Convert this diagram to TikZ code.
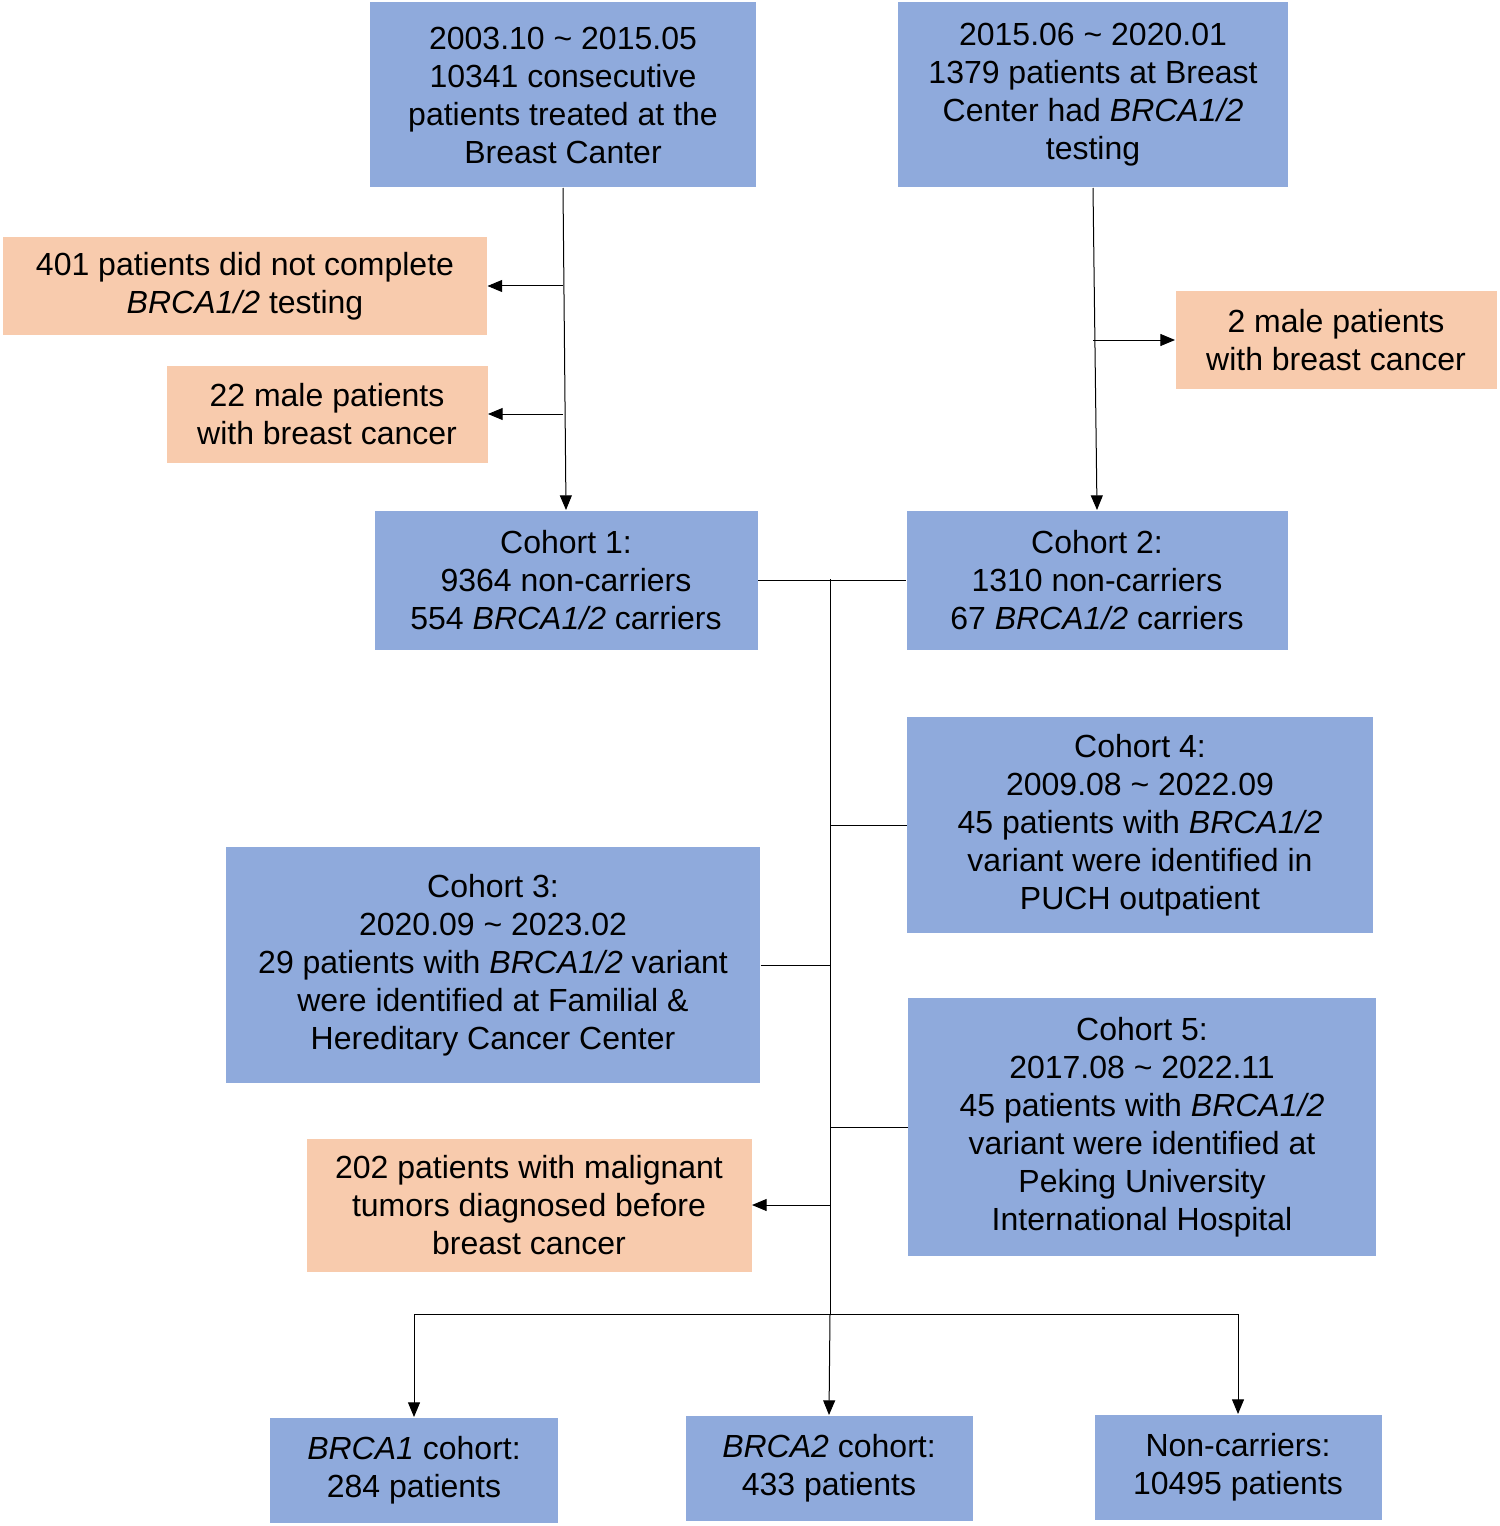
\documentclass[tikz,border=0pt]{standalone}
\usepackage{fontspec}
\setmainfont{Liberation Sans}
\usetikzlibrary{arrows.meta}
\definecolor{boxblue}{RGB}{143,170,220}
\definecolor{boxorange}{RGB}{248,203,173}
\tikzset{every picture/.style={line width=0.75pt}}
\tikzset{
  bluebox/.style={fill=boxblue, inner sep=0pt, align=center, font=\fontsize{24}{28.5}\selectfont},
  orangebox/.style={fill=boxorange, inner sep=0pt, align=center, font=\fontsize{24}{28.5}\selectfont},
  arr/.style={-{Triangle[length=11pt,width=9pt]}},
}
\begin{document}
\begin{tikzpicture}[x=0.75pt,y=0.75pt,yscale=-1,xscale=1]
\useasboundingbox (0,0) rectangle (1499,1526);

% Top boxes
\node [bluebox, minimum width=386*0.75pt, minimum height=185*0.75pt] (start1) at (563,95) {2003.10 \char`~{} 2015.05\\10341 consecutive\\patients treated at the\\Breast Canter};
\node [bluebox, minimum width=390*0.75pt, minimum height=185*0.75pt] (start2) at (1093,95) {2015.06 \char`~{} 2020.01\\1379 patients at Breast\\Center had \textit{BRCA1/2}\\testing};

% Exclusions
\node [orangebox, minimum width=484*0.75pt, minimum height=98*0.75pt] (excl1) at (245,286) {401 patients did not complete\\\textit{BRCA1/2} testing};
\node [orangebox, minimum width=321*0.75pt, minimum height=97*0.75pt] (excl2) at (327,414) {22 male patients\\with breast cancer};
\node [orangebox, minimum width=321*0.75pt, minimum height=97*0.75pt] (excl3) at (1336,340) {2 male patients\\with breast cancer};

% Cohorts
\node [bluebox, minimum width=383*0.75pt, minimum height=139*0.75pt] (coh1) at (566,580) {Cohort 1:\\9364 non-carriers\\554 \textit{BRCA1/2} carriers};
\node [bluebox, minimum width=381*0.75pt, minimum height=139*0.75pt] (coh2) at (1097,580) {Cohort 2:\\1310 non-carriers\\67 \textit{BRCA1/2} carriers};
\node [bluebox, minimum width=466*0.75pt, minimum height=216*0.75pt] (coh4) at (1140,825) {Cohort 4:\\2009.08 \char`~{} 2022.09\\45 patients with \textit{BRCA1/2}\\variant were identified in\\PUCH outpatient};
\node [bluebox, minimum width=534*0.75pt, minimum height=236*0.75pt] (coh3) at (493,965) {Cohort 3:\\2020.09 \char`~{} 2023.02\\29 patients with \textit{BRCA1/2} variant\\were identified at Familial \&\\Hereditary Cancer Center};
\node [bluebox, minimum width=468*0.75pt, minimum height=258*0.75pt] (coh5) at (1142,1127) {Cohort 5:\\2017.08 \char`~{} 2022.11\\45 patients with \textit{BRCA1/2}\\variant were identified at\\Peking University\\International Hospital};
\node [orangebox, minimum width=445*0.75pt, minimum height=133*0.75pt] (excl4) at (529,1205) {202 patients with malignant\\tumors diagnosed before\\breast cancer};

% Final groups
\node [bluebox, minimum width=288*0.75pt, minimum height=105*0.75pt] (brca1) at (414,1470) {\textit{BRCA1} cohort:\\284 patients};
\node [bluebox, minimum width=287*0.75pt, minimum height=105*0.75pt] (brca2) at (829,1468) {\textit{BRCA2} cohort:\\433 patients};
\node [bluebox, minimum width=287*0.75pt, minimum height=105*0.75pt] (noncar) at (1238,1467) {Non-carriers:\\10495 patients};

% Connectors
\coordinate (sp) at (830,579);
\coordinate (bot) at (830,1314);
\draw [arr] (start1.south) -- (coh1.north);
\draw [arr] (excl1.east -| start1.south) -- (excl1.east);
\draw [arr] (excl2.east -| start1.south) -- (excl2.east);
\draw [arr] (start2.south) -- (coh2.north);
\draw [arr] (excl3.west -| start2.south) -- (excl3.west);
\draw (coh1.east) -- (coh2.west);
\draw (sp) -- (bot);
\draw (coh4.west) -- (coh4.west -| sp);
\draw (coh3.east) -- (coh3.east -| sp);
\draw (coh5.west) -- (coh5.west -| sp);
\draw [arr] (excl4.east -| sp) -- (excl4.east);
\draw (bot -| brca1.north) -- (bot -| noncar.north);
\draw [arr] (bot -| brca1.north) -- (brca1.north);
\draw [arr] (bot) -- (brca2.north);
\draw [arr] (bot -| noncar.north) -- (noncar.north);

\end{tikzpicture}
\end{document}
